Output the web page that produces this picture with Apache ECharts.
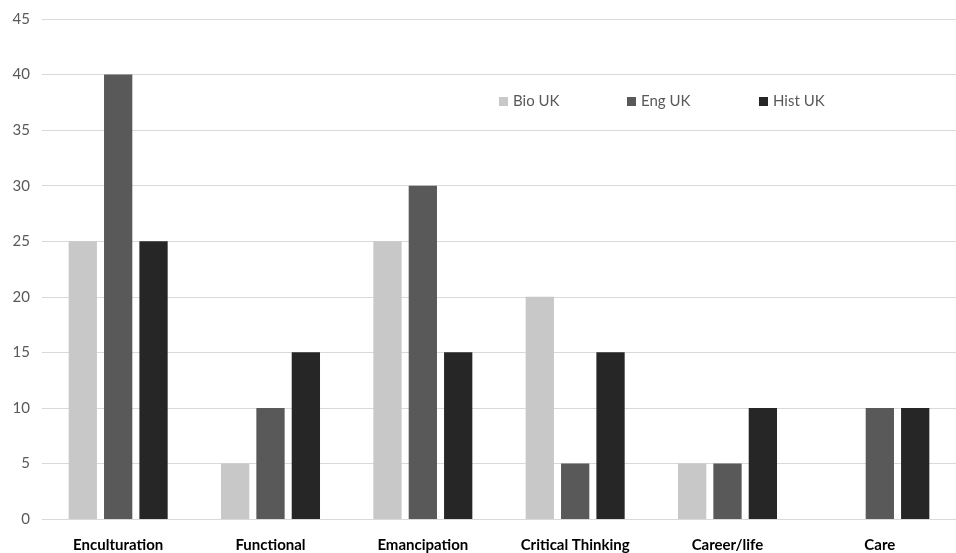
<!DOCTYPE html>
<html>
<head>
<meta charset="utf-8">
<script src="https://cdn.jsdelivr.net/npm/echarts@6/dist/echarts.min.js"></script>
<style>
  html, body { margin: 0; padding: 0; background: #fff; }
  #chart { width: 956px; height: 553px; }
</style>
</head>
<body>
<div id="chart"></div>
<script>
// Categories along the x axis
const categories = ['Enculturation', 'Functional', 'Emancipation', 'Critical Thinking', 'Career/life', 'Care'];

// Percentages per subject
const bioUK  = [25, 5, 25, 20, 5, 0];
const engUK  = [40, 10, 30, 5, 5, 10];
const histUK = [25, 15, 15, 15, 10, 10];

const seriesNames = ['Bio UK', 'Eng UK', 'Hist UK'];
const seriesColors = ['#c8c8c8', '#595959', '#262626'];
const legendLefts = [494, 622, 754];

const chart = echarts.init(document.getElementById('chart'));

const font = 'Lato, "Open Sans", sans-serif';

chart.setOption({
  animation: false,
  textStyle: { fontFamily: font },
  grid: { left: 42, right: 0, top: 19, bottom: 33, containLabel: false },
  // one legend block per series so the entries sit at fixed spacing
  legend: seriesNames.map((name, i) => ({
    left: legendLefts[i],
    top: 89,
    itemWidth: 9,
    itemHeight: 9,
    icon: 'rect',
    textStyle: { fontSize: 15, color: '#595959', fontFamily: font },
    data: [name]
  })),
  xAxis: {
    type: 'category',
    data: categories,
    axisLine: { show: false },
    axisTick: { show: false },
    axisLabel: { fontSize: 15, fontWeight: 'bold', color: '#000', margin: 19, fontFamily: font }
  },
  yAxis: {
    type: 'value',
    min: 0,
    max: 45,
    interval: 5,
    axisLine: { show: false },
    axisTick: { show: false },
    axisLabel: { fontSize: 15, color: '#595959', margin: 12, fontFamily: font },
    splitLine: { lineStyle: { color: '#d9d9d9', width: 1 } }
  },
  series: [bioUK, engUK, histUK].map((vals, i) => ({
    name: seriesNames[i],
    type: 'bar',
    data: vals,
    barGap: '25%',
    barCategoryGap: '35%',
    itemStyle: { color: seriesColors[i] }
  }))
});
</script>
</body>
</html>
